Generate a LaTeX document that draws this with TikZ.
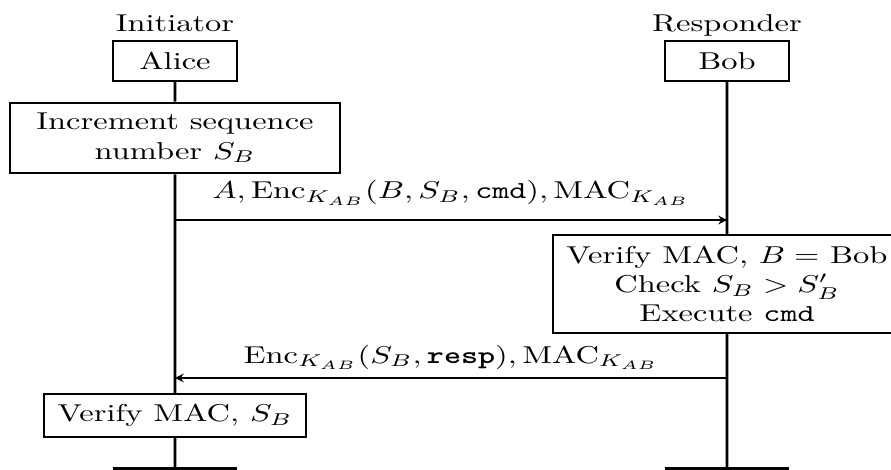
\documentclass[tikz,border=0pt]{standalone}
\usetikzlibrary{arrows,positioning}

\begin{document}
\begin{tikzpicture}[x=0.41pt, y=-0.41pt,
		every node/.append style={xscale=1.332},
		party/.style={draw, thick, fill=white, minimum width=38.2pt, minimum height=16.4pt, inner sep=4.3pt},
		role/.style={text depth=0pt},
		act/.style={draw, thick, fill=white, align=center, inner sep=4.3pt},
		finish/.style={fill=black, minimum width=38.2pt, minimum height=5pt, inner sep=0pt},
		lifeline/.style={line width=1.1pt},
		msg/.style={semithick, -stealth}]
		\useasboundingbox (0,0) rectangle (891,470);

		\node[party, label={[role]above:Initiator}] (alice) at (175,61) {Alice};
		\node[party, label={[role]above:Responder}] (bob) at (727,61) {Bob};

		\node[act, minimum width=101.6pt] (inc) at (175,138) {Increment sequence\\number $S_B$};
		\node[act] (check) at (727,284) {Verify MAC, $B =$ Bob\\Check $S_B > S'_B$\\Execute \texttt{cmd}};
		\node[act] (ver) at (175,415.5) {Verify MAC, $S_B$};

		\node[finish, anchor=north] (aend) at (175,467) {};
		\node[finish, anchor=north] (bend) at (727,467) {};

		% lifelines
		\draw[lifeline] (alice) -- (inc) (inc) -- (ver) (ver) -- (aend);
		\draw[lifeline] (bob) -- (check) (check) -- (bend);

		% messages
		\coordinate (s1) at (175,220); % alice -> bob
		\coordinate (r1) at (727,220);
		\coordinate (s2) at (727,378); % bob -> alice
		\coordinate (r2) at (175,378);
		\draw[msg] (s1) -- node[above=2.5pt] {$A, \mathrm{Enc}_{K_{AB}}(B, S_B, \texttt{cmd}), \mathrm{MAC}_{K_{AB}}$} (r1);
		\draw[msg] (s2) -- node[above] {$\mathrm{Enc}_{K_{AB}}(S_B, \texttt{\bfseries resp}), \mathrm{MAC}_{K_{AB}}$} (r2);
	\end{tikzpicture}
\end{document}
